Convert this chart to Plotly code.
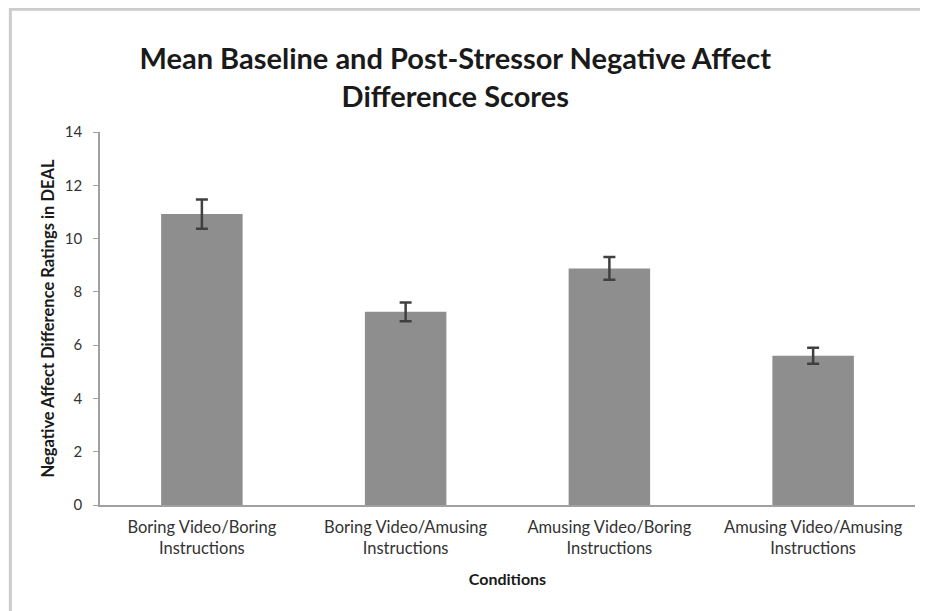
import plotly.graph_objects as go

categories = ["Boring Video/Boring<br>Instructions", "Boring Video/Amusing<br>Instructions",
              "Amusing Video/Boring<br>Instructions", "Amusing Video/Amusing<br>Instructions"]
means = [10.92, 7.25, 8.88, 5.6]
errors = [0.55, 0.35, 0.43, 0.3]
y_ticks = [0, 2, 4, 6, 8, 10, 12, 14]

FONT = "Lato, 'Open Sans', sans-serif"

fig = go.Figure()
fig.add_trace(go.Bar(
    x=categories, y=means,
    marker=dict(color="#8e8e8e", line=dict(color="#8e8e8e", width=0)),
    error_y=dict(type="data", array=errors, visible=True, color="#404040",
                 thickness=2.5, width=6),
    width=0.4,
))

fig.update_layout(
    width=928, height=611,
    margin=dict(l=92, r=21, t=124, b=114),
    paper_bgcolor="white", plot_bgcolor="white",
    showlegend=False,
    font=dict(family=FONT, color="#333333", size=15),
    title=dict(text="<b>Mean Baseline and Post-Stressor Negative Affect<br>Difference Scores</b>",
               x=0.482, xanchor="center", y=0.90, yanchor="top",
               font=dict(size=29, color="#1a1a1a", family=FONT)),
    xaxis=dict(
        showline=True, linecolor="#a0a0a0", linewidth=1.5,
        ticks="", showgrid=False, ticklabelstandoff=6,
        tickfont=dict(size=16.5, color="#333333"),
        title=dict(text="<b>Conditions</b>", font=dict(size=16, color="#1a1a1a"), standoff=17),
    ),
    yaxis=dict(
        range=[0, 14], tickvals=y_ticks, showline=True, linecolor="#a0a0a0", linewidth=1.5,
        ticks="outside", ticklen=5, tickcolor="#a0a0a0", showgrid=False, zeroline=False,
        ticklabelstandoff=8,
        tickfont=dict(size=15, color="#333333"),
        title=dict(text="<b>Negative Affect Difference Ratings in DEAL</b>",
                   font=dict(size=16.5, color="#1a1a1a"), standoff=6),
    ),
    shapes=[dict(type="rect", xref="paper", yref="paper",
                 x0=-0.11, x1=1.04, y0=-0.33, y1=1.329,
                 line=dict(color="#cccccc", width=3), fillcolor="rgba(0,0,0,0)")],
)

fig.write_html("out.html")
